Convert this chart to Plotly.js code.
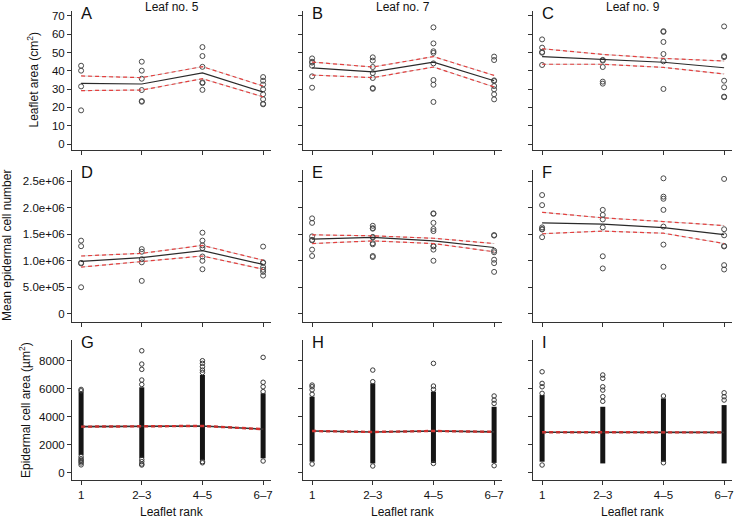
<!DOCTYPE html>
<html>
<head>
<meta charset="utf-8">
<script src="https://cdn.plot.ly/plotly-3.0.1.min.js"></script>
<style>html,body{margin:0;padding:0;background:#fff;}#chart{width:734px;height:521px;}</style>
</head>
<body>
<div id="chart"></div>
<script>
// ---------- DATA ----------
const ranks = ["1", "2–3", "4–5", "6–7"];
const leafTitles = ["Leaf no. 5", "Leaf no. 7", "Leaf no. 9"];
const panelLetters = ["A", "B", "C", "D", "E", "F", "G", "H", "I"];

// Row 1: leaflet area (cm2)
const areaLeaf5 = [[42.8, 40.1, 31.5, 18.4], [45.0, 40.1, 35.7, 29.5, 23.5, 23.1], [53.0, 48.1, 42.2, 33.7, 33.3, 29.6], [36.6, 34.6, 32.5, 29.9, 27.2, 24.5, 22.0, 21.7]];
const areaLeaf5Mean = [33.2, 32.8, 38.9, 28.4];
const areaLeaf5Upper = [37.2, 36.3, 42.3, 31.7];
const areaLeaf5Lower = [29.2, 29.5, 35.7, 25.8];

const areaLeaf7 = [[46.8, 45.0, 44.5, 42.8, 37.0, 30.8], [47.4, 45.6, 42.1, 38.8, 36.1, 30.6, 30.2], [63.8, 55.0, 50.7, 49.8, 44.1, 35.0, 32.4, 23.0], [47.8, 45.9, 34.8, 34.4, 31.7, 29.9, 27.2, 24.4]];
const areaLeaf7Mean = [41.6, 39.4, 44.8, 34.6];
const areaLeaf7Upper = [44.8, 42.1, 47.8, 37.5];
const areaLeaf7Lower = [37.7, 36.3, 42.1, 31.2];

const areaLeaf9 = [[57.2, 52.7, 50.3, 49.9, 43.2], [46.0, 45.6, 42.1, 34.1, 33.0], [61.7, 61.3, 55.8, 49.2, 45.2, 30.1], [64.3, 48.0, 47.5, 34.6, 31.0, 25.9, 25.6]];
const areaLeaf9Mean = [47.8, 46.1, 44.7, 41.7];
const areaLeaf9Upper = [52.1, 49.0, 46.8, 45.4];
const areaLeaf9Lower = [43.6, 43.6, 41.9, 38.3];

// Row 2: mean epidermal cell number
const cellsLeaf5 = [[1.38e6, 1.275e6, 0.96e6, 0.95e6, 0.50e6], [1.22e6, 1.17e6, 1.03e6, 0.97e6, 0.62e6], [1.53e6, 1.38e6, 1.29e6, 1.24e6, 1.08e6, 1.00e6, 0.84e6], [1.268e6, 0.97e6, 0.96e6, 0.88e6, 0.83e6, 0.79e6, 0.72e6]];
const cellsLeaf5Mean = [0.99e6, 1.06e6, 1.19e6, 0.93e6];
const cellsLeaf5Upper = [1.09e6, 1.14e6, 1.29e6, 1.01e6];
const cellsLeaf5Lower = [0.88e6, 0.99e6, 1.09e6, 0.84e6];

const cellsLeaf7 = [[1.80e6, 1.715e6, 1.46e6, 1.395e6, 1.385e6, 1.21e6, 1.09e6], [1.66e6, 1.615e6, 1.605e6, 1.45e6, 1.44e6, 1.33e6, 1.31e6, 1.09e6, 1.07e6], [1.895e6, 1.885e6, 1.715e6, 1.60e6, 1.56e6, 1.28e6, 1.27e6, 1.21e6, 1.00e6], [1.485e6, 1.475e6, 1.19e6, 1.16e6, 1.02e6, 0.955e6, 0.79e6]];
const cellsLeaf7Mean = [1.41e6, 1.44e6, 1.375e6, 1.25e6];
const cellsLeaf7Upper = [1.49e6, 1.47e6, 1.425e6, 1.325e6];
const cellsLeaf7Lower = [1.325e6, 1.375e6, 1.325e6, 1.17e6];

const cellsLeaf9 = [[2.24e6, 2.05e6, 1.63e6, 1.60e6, 1.59e6, 1.445e6], [1.96e6, 1.865e6, 1.78e6, 1.63e6, 1.085e6, 0.855e6], [2.556e6, 2.21e6, 2.17e6, 1.96e6, 1.645e6, 1.305e6, 0.886e6], [2.544e6, 1.595e6, 1.48e6, 1.28e6, 1.27e6, 0.917e6, 0.835e6]];
const cellsLeaf9Mean = [1.715e6, 1.69e6, 1.627e6, 1.495e6];
const cellsLeaf9Upper = [1.915e6, 1.81e6, 1.74e6, 1.665e6];
const cellsLeaf9Lower = [1.51e6, 1.56e6, 1.52e6, 1.325e6];

// Row 3: epidermal cell area (um2) – dense bulk of cells (low/high) plus sparse extreme cells
const cellAreaLeaf5Low = [1260, 1050, 900, 1030];
const cellAreaLeaf5High = [5790, 6100, 6980, 5670];
const cellAreaLeaf5Extremes = [[5950, 5850, 1150, 1000, 900, 800, 700, 560], [8710, 7760, 7380, 6620, 6300, 950, 790, 620, 550], [8000, 7810, 7570, 7330, 7150, 790, 710], [8240, 6460, 6140, 5790, 836]];
const cellAreaLeaf5Mean = [3290, 3300, 3340, 3110];
const cellAreaLeaf5Upper = [3330, 3340, 3380, 3150];
const cellAreaLeaf5Lower = [3250, 3260, 3300, 3070];

const cellAreaLeaf7Low = [786, 663, 700, 700];
const cellAreaLeaf7High = [5430, 6380, 5790, 4710];
const cellAreaLeaf7Extremes = [[6260, 6140, 5920, 5600, 620], [7330, 6500, 480], [7810, 6190, 5950, 663], [5480, 5190, 4950, 500]];
const cellAreaLeaf7Mean = [2980, 2910, 2980, 2920];
const cellAreaLeaf7Upper = [3020, 2950, 3020, 2960];
const cellAreaLeaf7Lower = [2940, 2870, 2940, 2880];

const cellAreaLeaf9Low = [786, 663, 786, 663];
const cellAreaLeaf9High = [5550, 4710, 5310, 4830];
const cellAreaLeaf9Extremes = [[7210, 6380, 6140, 5670, 550], [6980, 6740, 6140, 5900, 5430, 5100], [5480, 710], [5710, 5430, 5190]];
const cellAreaLeaf9Mean = [2890, 2880, 2870, 2880];
const cellAreaLeaf9Upper = [2930, 2920, 2910, 2920];
const cellAreaLeaf9Lower = [2850, 2840, 2830, 2840];

// Axis ticks
const areaTicks = [0, 10, 20, 30, 40, 50, 60, 70];
const cellTicks = [0, 5e5, 1e6, 1.5e6, 2e6, 2.5e6];
const cellTickText = ["0", "5.0e+05", "1.0e+06", "1.5e+06", "2.0e+06", "2.5e+06"];
const cellAreaTicks = [0, 2000, 4000, 6000, 8000];

// ---------- BUILD ----------
const W = 734, H = 521;
const FONT = "Liberation Sans, Arial, Helvetica, sans-serif";
const colPx = [[72, 271], [303, 502], [533, 732]];
const rowPx = [[11, 150], [170, 322], [340, 480]];
const xRange = [-0.15, 3.13];
const yRanges = [[-3.28, 72.73], [-156000, 2.713e6], [-521, 9479]];
const yTickVals = [areaTicks, cellTicks, cellAreaTicks];
const yTickText = [areaTicks.map(String), cellTickText, cellAreaTicks.map(String)];

const scatterPanels = [
  {pts: areaLeaf5, mean: areaLeaf5Mean, up: areaLeaf5Upper, lo: areaLeaf5Lower},
  {pts: areaLeaf7, mean: areaLeaf7Mean, up: areaLeaf7Upper, lo: areaLeaf7Lower},
  {pts: areaLeaf9, mean: areaLeaf9Mean, up: areaLeaf9Upper, lo: areaLeaf9Lower},
  {pts: cellsLeaf5, mean: cellsLeaf5Mean, up: cellsLeaf5Upper, lo: cellsLeaf5Lower},
  {pts: cellsLeaf7, mean: cellsLeaf7Mean, up: cellsLeaf7Upper, lo: cellsLeaf7Lower},
  {pts: cellsLeaf9, mean: cellsLeaf9Mean, up: cellsLeaf9Upper, lo: cellsLeaf9Lower}
];
const densePanels = [
  {low: cellAreaLeaf5Low, high: cellAreaLeaf5High, ext: cellAreaLeaf5Extremes, mean: cellAreaLeaf5Mean, up: cellAreaLeaf5Upper, lo: cellAreaLeaf5Lower},
  {low: cellAreaLeaf7Low, high: cellAreaLeaf7High, ext: cellAreaLeaf7Extremes, mean: cellAreaLeaf7Mean, up: cellAreaLeaf7Upper, lo: cellAreaLeaf7Lower},
  {low: cellAreaLeaf9Low, high: cellAreaLeaf9High, ext: cellAreaLeaf9Extremes, mean: cellAreaLeaf9Mean, up: cellAreaLeaf9Upper, lo: cellAreaLeaf9Lower}
];

function sfx(p) { return p === 0 ? "" : String(p + 1); }

const traces = [];
const layout = {
  width: W, height: H,
  margin: {l: 0, r: 0, t: 0, b: 0},
  paper_bgcolor: "#fff", plot_bgcolor: "#fff",
  showlegend: false, hovermode: false,
  font: {family: FONT, color: "#111"},
  annotations: []
};

const ptMarker = {symbol: "circle-open", size: 5, color: "#4a4a4a", line: {width: 1, color: "#4a4a4a"}};
const redDash = {color: "#e3403f", width: 1.2, dash: "4px,3px"};

for (let p = 0; p < 9; p++) {
  const row = Math.floor(p / 3), col = p % 3, s = sfx(p);
  const xa = "x" + s, ya = "y" + s;
  layout["xaxis" + s] = {
    domain: [colPx[col][0] / W, colPx[col][1] / W],
    anchor: ya, type: "category", categoryorder: "array", categoryarray: ranks,
    range: xRange, showline: true, linecolor: "#333", linewidth: 1,
    ticks: "outside", ticklen: 4, tickwidth: 1, tickcolor: "#333",
    showticklabels: row === 2, tickfont: {size: 11.5, family: FONT, color: "#111"},
    showgrid: false, zeroline: false, fixedrange: true
  };
  layout["yaxis" + s] = {
    domain: [1 - rowPx[row][1] / H, 1 - rowPx[row][0] / H],
    anchor: xa, range: yRanges[row], tickmode: "array",
    tickvals: yTickVals[row], ticktext: yTickText[row],
    showline: true, linecolor: "#333", linewidth: 1,
    ticks: "outside", ticklen: 4, tickwidth: 1, tickcolor: "#333",
    showticklabels: col === 0, tickfont: {size: 11.5, family: FONT, color: "#111"},
    showgrid: false, zeroline: false, fixedrange: true
  };

  if (row < 2) {
    const d = scatterPanels[p];
    const xs = [], ys = [];
    d.pts.forEach((g, i) => g.forEach(v => { xs.push(ranks[i]); ys.push(v); }));
    traces.push({type: "scatter", mode: "markers", x: xs, y: ys, xaxis: xa, yaxis: ya, marker: ptMarker, cliponaxis: false});
    traces.push({type: "scatter", mode: "lines", x: ranks, y: d.up, xaxis: xa, yaxis: ya, line: {color: "rgba(90,90,90,0.25)", width: 1}});
    traces.push({type: "scatter", mode: "lines", x: ranks, y: d.lo, xaxis: xa, yaxis: ya, line: {color: "rgba(90,90,90,0.25)", width: 1}});
    traces.push({type: "scatter", mode: "lines", x: ranks, y: d.mean, xaxis: xa, yaxis: ya, line: {color: "#2a2a2a", width: 1.2}});
    traces.push({type: "scatter", mode: "lines", x: ranks, y: d.up, xaxis: xa, yaxis: ya, line: redDash});
    traces.push({type: "scatter", mode: "lines", x: ranks, y: d.lo, xaxis: xa, yaxis: ya, line: redDash});
  } else {
    const d = densePanels[col];
    ranks.forEach((r, i) => {
      traces.push({type: "scatter", mode: "lines", x: [r, r], y: [d.low[i], d.high[i]], xaxis: xa, yaxis: ya, line: {color: "#151515", width: 5}});
    });
    const xs = [], ys = [];
    d.ext.forEach((g, i) => g.forEach(v => { xs.push(ranks[i]); ys.push(v); }));
    traces.push({type: "scatter", mode: "markers", x: xs, y: ys, xaxis: xa, yaxis: ya, marker: {symbol: "circle-open", size: 4.5, color: "#3a3a3a", line: {width: 1, color: "#3a3a3a"}}});
    traces.push({type: "scatter", mode: "lines", x: ranks, y: d.mean, xaxis: xa, yaxis: ya, line: {color: "#333", width: 1.6}});
    traces.push({type: "scatter", mode: "lines", x: ranks, y: d.up, xaxis: xa, yaxis: ya, line: {color: "#d2302e", width: 1.3, dash: "4px,3px"}});
    traces.push({type: "scatter", mode: "lines", x: ranks, y: d.lo, xaxis: xa, yaxis: ya, line: {color: "#d2302e", width: 1.3, dash: "4px,3px"}});
  }

  // panel letter, left-aligned on the first rank tick
  layout.annotations.push({
    text: panelLetters[p], xref: xa + " domain", yref: ya + " domain",
    x: (0 - xRange[0]) / (xRange[1] - xRange[0]), y: 1,
    xanchor: "left", yanchor: "middle", xshift: -2, yshift: -2, showarrow: false,
    font: {family: FONT, size: 16.5, color: "#111"}
  });
}

// column titles and x titles
leafTitles.forEach((t, c) => {
  layout.annotations.push({
    text: t, xref: "paper", yref: "paper", x: (colPx[c][0] + colPx[c][1]) / 2 / W, y: 1 - 7 / H,
    xanchor: "center", yanchor: "middle", showarrow: false, font: {family: FONT, size: 12, color: "#111"}
  });
  layout.annotations.push({
    text: "Leaflet rank", xref: "paper", yref: "paper", x: (colPx[c][0] + colPx[c][1]) / 2 / W, y: 1 - 512 / H,
    xanchor: "center", yanchor: "middle", showarrow: false, font: {family: FONT, size: 12, color: "#111"}
  });
});

// y axis titles
const yTitles = [
  {text: "Leaflet area (cm<sup>2</sup>)", x: 33, y: 80.5},
  {text: "Mean epidermal cell number", x: 7, y: 246},
  {text: "Epidermal cell area (µm<sup>2</sup>)", x: 25, y: 410}
];
yTitles.forEach(t => {
  layout.annotations.push({
    text: t.text, xref: "paper", yref: "paper", x: t.x / W, y: 1 - t.y / H,
    xanchor: "center", yanchor: "middle", textangle: -90, showarrow: false,
    font: {family: FONT, size: 12, color: "#111"}
  });
});

Plotly.newPlot("chart", traces, layout, {staticPlot: true, displayModeBar: false});
</script>
</body>
</html>
